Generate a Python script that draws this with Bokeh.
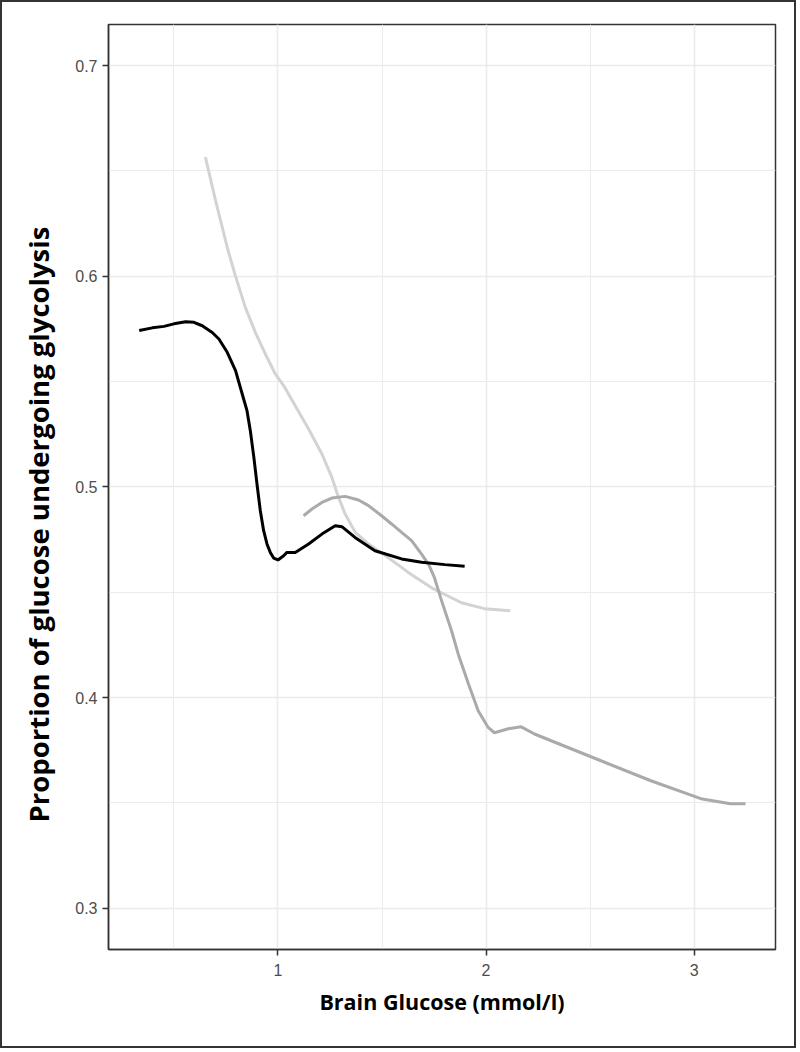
from bokeh.plotting import figure
from bokeh.models import Range1d, FixedTicker, Title
from bokeh.embed import file_html
from bokeh.resources import INLINE

# ---- data ----
black_x = [0.333, 0.396, 0.452, 0.500, 0.556, 0.596, 0.636, 0.684, 0.716, 0.756, 0.796,
           0.828, 0.851, 0.867, 0.884, 0.899, 0.915, 0.931, 0.947, 0.963, 0.979, 1.000,
           1.027, 1.043, 1.083, 1.147, 1.211, 1.275, 1.307, 1.370, 1.466, 1.594, 1.690,
           1.802, 1.897]
black_y = [0.5742, 0.5755, 0.5762, 0.5774, 0.5784, 0.5781, 0.5765, 0.5733, 0.5702, 0.5639,
           0.5552, 0.5441, 0.5362, 0.5267, 0.5140, 0.5014, 0.4887, 0.4792, 0.4729, 0.4689,
           0.4662, 0.4653, 0.4673, 0.4689, 0.4689, 0.4729, 0.4776, 0.4816, 0.4811, 0.4760,
           0.4697, 0.4658, 0.4642, 0.4631, 0.4623]

light_x = [0.651, 0.700, 0.760, 0.795, 0.843, 0.891, 0.939, 0.987, 1.027, 1.083, 1.147,
           1.211, 1.259, 1.291, 1.323, 1.371, 1.435, 1.514, 1.594, 1.626, 1.738, 1.882,
           1.992, 2.116]
light_y = [0.6565, 0.6359, 0.6122, 0.6003, 0.5852, 0.5734, 0.5631, 0.5536, 0.5481, 0.5385,
           0.5275, 0.5156, 0.5045, 0.4950, 0.4871, 0.4784, 0.4729, 0.4675, 0.4618, 0.4594,
           0.4521, 0.4450, 0.4422, 0.4412]

mid_x = [1.123, 1.163, 1.211, 1.259, 1.323, 1.387, 1.435, 1.498, 1.546, 1.594, 1.642,
         1.690, 1.725, 1.752, 1.786, 1.834, 1.866, 1.915, 1.962, 2.010, 2.040, 2.107, 2.169,
         2.233, 2.313, 2.552, 2.792, 3.032, 3.175, 3.247]
mid_y = [0.4863, 0.4895, 0.4926, 0.4947, 0.4955, 0.4938, 0.4911, 0.4863, 0.4824, 0.4784,
         0.4745, 0.4681, 0.4630, 0.4569, 0.4460, 0.4317, 0.4207, 0.4066, 0.3937, 0.3858,
         0.3833, 0.3852, 0.3861, 0.3827, 0.3795, 0.3700, 0.3605, 0.3520, 0.3496, 0.3496]

x_ticks = [1, 2, 3]
x_minor = [0.5, 1.5, 2.5]
y_ticks = [0.3, 0.4, 0.5, 0.6, 0.7]
y_minor = [0.35, 0.45, 0.55, 0.65]
x_label = "Brain Glucose (mmol/l)"
y_label = "Proportion of glucose undergoing glycolysis"

p = figure(width=796, height=1048,
           x_range=Range1d(0.1854, 3.391), y_range=Range1d(0.2804, 0.7195),
           output_backend="svg", toolbar_location=None,
           min_border_left=104, min_border_top=22, min_border_right=23, min_border_bottom=101)
p.styles = {"border": "2px solid #333333"}
p.background_fill_color = "white"
p.border_fill_color = "white"
p.outline_line_color = "#333333"
p.outline_line_width = 1.5

p.xaxis.ticker = FixedTicker(ticks=x_ticks, minor_ticks=x_minor)
p.yaxis.ticker = FixedTicker(ticks=y_ticks, minor_ticks=y_minor)
p.yaxis.major_label_overrides = {t: f"{t:.1f}" for t in y_ticks}

for ax in (p.xaxis, p.yaxis):
    ax.axis_line_color = "#333333"
    ax.axis_line_width = 1.5
    ax.major_tick_line_color = "#333333"
    ax.major_tick_line_width = 1.5
    ax.major_tick_in = 0
    ax.major_tick_out = 6
    ax.minor_tick_line_color = None
    ax.major_label_text_font = "Liberation Sans"
    ax.major_label_text_font_size = "16px"
    ax.major_label_text_color = "#4d4d4d"
p.xaxis.major_label_standoff = 8
p.yaxis.major_label_standoff = 5

p.xaxis.axis_label = x_label
p.xaxis.axis_label_text_font = "Open Sans"
p.xaxis.axis_label_text_font_style = "bold"
p.xaxis.axis_label_text_font_size = "21.5px"
p.xaxis.axis_label_text_color = "black"
p.xaxis.axis_label_standoff = 8

ytitle = Title(text=y_label, align="left", offset=127, standoff=31,
               text_font="Open Sans", text_font_style="bold", text_font_size="27.5px",
               text_color="black")
p.add_layout(ytitle, "left")

for g in (p.xgrid, p.ygrid):
    g.grid_line_color = "#ebebeb"
    g.grid_line_width = 1.6
    g.minor_grid_line_color = "#ebebeb"
    g.minor_grid_line_width = 1.0

p.line(light_x, light_y, line_color="#d3d3d3", line_width=3)
p.line(mid_x, mid_y, line_color="#aaaaaa", line_width=3)
p.line(black_x, black_y, line_color="#000000", line_width=3)

open("out.html", "w").write(file_html(p, INLINE))
